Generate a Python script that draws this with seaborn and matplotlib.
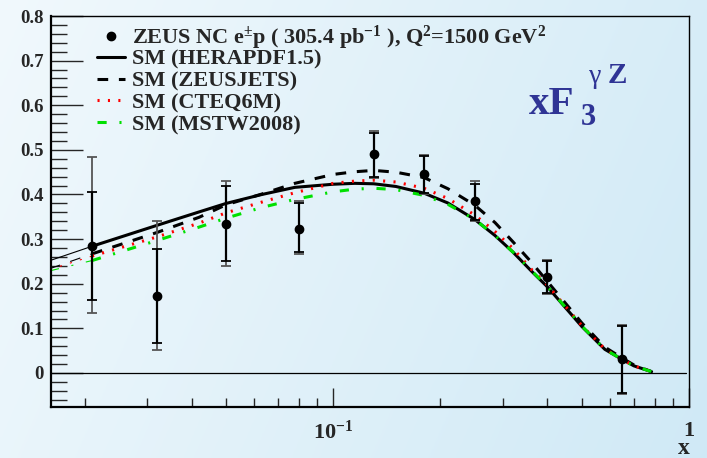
import numpy as np
import matplotlib
matplotlib.use("Agg")
import matplotlib.pyplot as plt
import matplotlib.ticker as mticker
from matplotlib.lines import Line2D
import seaborn as sns

# ZEUS NC e+-p measurement of xF3 (gamma Z) at Q^2 = 1500 GeV^2
data_x = [0.021, 0.032, 0.050, 0.080, 0.13, 0.18, 0.25, 0.40, 0.65]
data_y = [0.284, 0.173, 0.334, 0.322, 0.490, 0.446, 0.386, 0.216, 0.031]
stat_lo = [0.120, 0.105, 0.084, 0.051, 0.050, 0.042, 0.043, 0.036, 0.075]
stat_hi = [0.121, 0.105, 0.085, 0.058, 0.047, 0.040, 0.038, 0.034, 0.074]
tot_lo = [0.149, 0.122, 0.094, 0.055, 0.053, 0.046, 0.046, 0.038, 0.077]
tot_hi = [0.200, 0.168, 0.096, 0.064, 0.052, 0.043, 0.045, 0.037, 0.077]

# Standard Model predictions for several PDF sets
curve_x = [0.016, 0.021, 0.032, 0.042, 0.050, 0.063, 0.078, 0.10, 0.115, 0.13,
           0.15, 0.18, 0.21, 0.25, 0.285, 0.32, 0.36, 0.40, 0.45, 0.50, 0.58,
           0.65, 0.70, 0.785]
sm_herapdf = [0.252, 0.284, 0.331, 0.361, 0.380, 0.400, 0.416, 0.423, 0.425, 0.424,
              0.418, 0.403, 0.381, 0.344, 0.308, 0.271, 0.229, 0.193, 0.146, 0.104, 0.053,
              0.030, 0.016, 0.003]
sm_zeusjets = [0.234, 0.267, 0.315, 0.349, 0.377, 0.401, 0.425, 0.445, 0.451, 0.454,
               0.450, 0.438, 0.413, 0.376, 0.337, 0.294, 0.249, 0.205, 0.156, 0.112, 0.058,
               0.033, 0.018, 0.003]
sm_cteq = [0.232, 0.262, 0.305, 0.336, 0.359, 0.383, 0.404, 0.425, 0.430, 0.432,
           0.428, 0.414, 0.391, 0.354, 0.317, 0.279, 0.233, 0.197, 0.149, 0.106, 0.054,
           0.030, 0.016, 0.003]
sm_mstw = [0.229, 0.252, 0.297, 0.327, 0.347, 0.371, 0.389, 0.406, 0.412, 0.414,
           0.411, 0.398, 0.378, 0.344, 0.308, 0.271, 0.230, 0.194, 0.147, 0.105, 0.053,
           0.030, 0.016, 0.003]

data_label = r"ZEUS NC e$^{\pm}$p ( 305.4 pb$^{-1}$ ), Q$^{2}$=1500 GeV$^{2}$"
sm_labels = ["SM (HERAPDF1.5)", "SM (ZEUSJETS)", "SM (CTEQ6M)", "SM (MSTW2008)"]
y_ticks = [0.0, 0.1, 0.2, 0.3, 0.4, 0.5, 0.6, 0.7, 0.8]

sns.set_style("ticks")
plt.rcParams["font.family"] = ["Liberation Serif", "DejaVu Serif"]
plt.rcParams["font.weight"] = "bold"
plt.rcParams["mathtext.fontset"] = "custom"
plt.rcParams["mathtext.rm"] = "Liberation Serif:bold"
plt.rcParams["mathtext.bf"] = "Liberation Serif:bold"
plt.rcParams["mathtext.it"] = "Liberation Serif:bold:italic"
plt.rcParams["lines.scale_dashes"] = False

W, H = 707, 458
fig = plt.figure(figsize=(W / 100, H / 100), dpi=100)

# pale blue gradient backdrop
bg = fig.add_axes([0, 0, 1, 1], zorder=-10)
gx, gy = np.meshgrid(np.linspace(0, 1, 200), np.linspace(0, 1, 200))
t = np.clip(0.78 * gx + 0.22 * gy, 0, 1)[..., None]
c0 = np.array([0.945, 0.975, 0.99])
c1 = np.array([0.815, 0.915, 0.965])
bg.imshow(c0 * (1 - t) + c1 * t, aspect="auto", extent=[0, 1, 0, 1], origin="upper")
bg.set_axis_off()

ax = fig.add_axes([51 / W, 51 / H, 638 / W, 391 / H])
ax.patch.set_alpha(0)

styles = [
    (sm_herapdf, "black", "-"),
    (sm_zeusjets, "black", (0, (7.7, 7.7))),
    (sm_cteq, "red", (0, (1.5, 6.0))),
    (sm_mstw, "#00e000", (0, (6.6, 9.2, 1.5, 9.2))),
]
handles = []
for values, color, ls in styles:
    # thin extension at low x, thick line over the measured range
    sns.lineplot(x=curve_x[:2], y=values[:2], ax=ax, color=color, linestyle=ls,
                 linewidth=0.8, estimator=None, sort=False)
    sns.lineplot(x=curve_x[1:], y=values[1:], ax=ax, color=color, linestyle=ls,
                 linewidth=2.2, estimator=None, sort=False)
    handles.append(ax.get_lines()[-1])

ax.axhline(0, xmin=0, xmax=0.995, color="black", lw=0.9, zorder=2)

ax.errorbar(data_x, data_y, yerr=[tot_lo, tot_hi], fmt="none", ecolor="#555555",
            elinewidth=1.3, capsize=3.5, capthick=1.3, zorder=4)
ax.errorbar(data_x, data_y, yerr=[stat_lo, stat_hi], fmt="o", color="black",
            markersize=6, elinewidth=1.6, capsize=3.5, capthick=1.3, zorder=5)

ax.set_xscale("log")
ax.set_xlim(0.0161, 1.0)
ax.set_ylim(-0.0762, 0.8)

ax.yaxis.set_major_locator(mticker.FixedLocator(y_ticks))
ax.yaxis.set_minor_locator(mticker.MultipleLocator(0.02))
ax.yaxis.set_major_formatter(mticker.FuncFormatter(lambda v, p: "0" if abs(v) < 1e-9 else f"{v:.1f}"))
ax.xaxis.set_major_locator(mticker.FixedLocator([0.1, 1.0]))
ax.xaxis.set_minor_locator(mticker.LogLocator(base=10, subs=np.arange(2, 10)))
ax.xaxis.set_minor_formatter(mticker.NullFormatter())
ax.xaxis.set_major_formatter(mticker.FixedFormatter([r"$10^{-1}$", "1"]))

ax.tick_params(axis="y", which="major", direction="in", length=23, width=1.0,
               labelsize=13.5, pad=5, left=True, right=False)
ax.tick_params(axis="y", which="minor", direction="in", length=11.5, width=1.0,
               left=True, right=False)
ax.tick_params(axis="x", which="major", direction="in", length=14, width=1.0,
               labelsize=16, pad=10, bottom=True, top=False)
ax.tick_params(axis="x", which="minor", direction="in", length=6.8, width=1.0,
               bottom=True, top=False)
for lab in ax.get_xticklabels() + ax.get_yticklabels():
    lab.set_fontweight("bold")

for side in ["left", "bottom"]:
    ax.spines[side].set_linewidth(1.6)
for side in ["top", "right"]:
    ax.spines[side].set_linewidth(1.0)
for sp in ax.spines.values():
    sp.set_color("black")

# axis title under the "1" label
fig.text(690 / W, 1 - 454 / H, "x", ha="right", va="baseline",
         fontsize=17, fontweight="bold")

# structure-function label xF3^{gamma Z}
blue = "#2f3495"
fig.text(529 / W, 1 - 114 / H, "xF", ha="left", va="baseline", fontsize=29.5,
         fontweight="bold", color=blue)
fig.text(581 / W, 1 - 125 / H, "3", ha="left", va="baseline", fontsize=22,
         fontweight="bold", color=blue)
fig.text(589 / W, 1 - 83 / H, "\u03b3", ha="left", va="baseline", fontsize=20,
         fontweight="normal", color=blue)
fig.text(608 / W, 1 - 83 / H, "Z", ha="left", va="baseline", fontsize=21,
         fontweight="bold", color=blue)

point_handle = Line2D([], [], linestyle="none", marker="o", color="black", markersize=6)
leg_data = ax.legend([point_handle], [data_label], loc="upper left",
                     bbox_to_anchor=(0.072, 0.981), frameon=False, fontsize=16,
                     handlelength=1.27, handletextpad=0.3,
                     borderpad=0, borderaxespad=0)
ax.add_artist(leg_data)
ax.legend(handles, sm_labels, loc="upper left",
          bbox_to_anchor=(0.072, 0.916), frameon=False, fontsize=16,
          handlelength=1.27, handletextpad=0.3, labelspacing=0.06,
          borderpad=0, borderaxespad=0)

fig.savefig("out.png", dpi=100)
